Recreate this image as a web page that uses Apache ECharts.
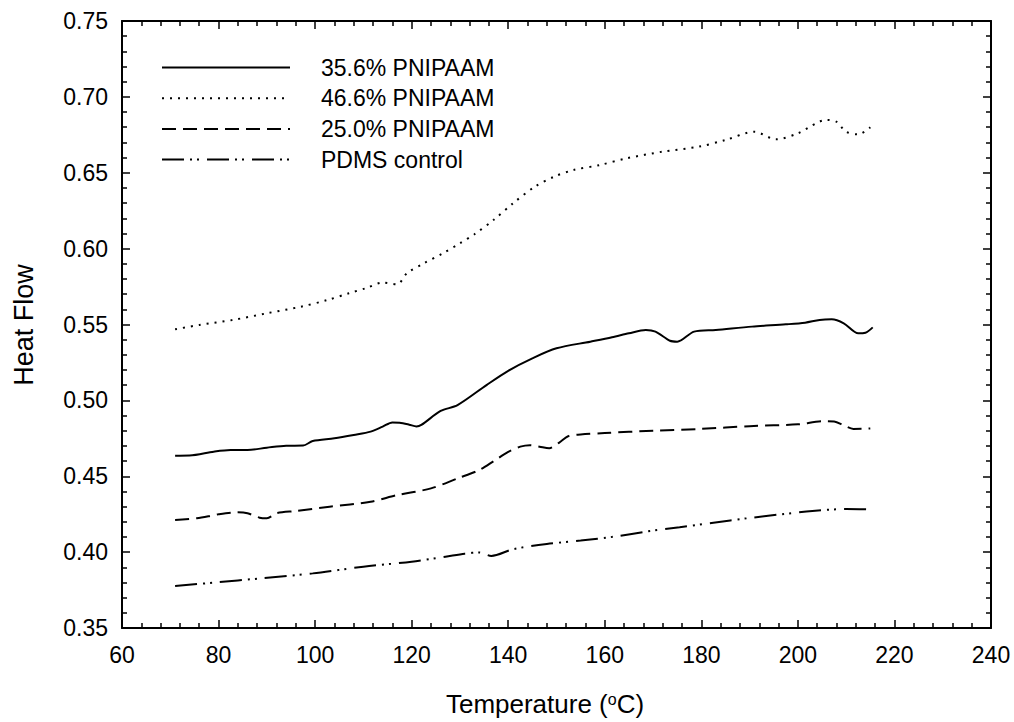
<!DOCTYPE html>
<html>
<head>
<meta charset="utf-8">
<script src="https://cdn.jsdelivr.net/npm/echarts@6/dist/echarts.min.js"></script>
<style>
html,body{margin:0;padding:0;background:#fff;}
#chart{width:1014px;height:722px;}
</style>
</head>
<body>
<div id="chart"></div>
<script>
// ---- Data ----
const seriesNames = ['35.6% PNIPAAM', '46.6% PNIPAAM', '25.0% PNIPAAM', 'PDMS control'];

const t356 = [71, 74, 79, 82.5, 86, 90, 94, 97.5, 99.5, 104, 108, 111.5, 114, 116, 117.5, 119.5, 121, 122, 126, 129.5, 135.5, 140, 145, 150, 157, 161.5, 165, 168.5, 170.5, 173.5, 175, 178.5, 183, 190.5, 197.5, 201.5, 204.5, 207, 209.5, 212.5, 214, 215.5];
const v356 = [0.4635, 0.4636, 0.4662, 0.4673, 0.4673, 0.4688, 0.4701, 0.4702, 0.4732, 0.4750, 0.4772, 0.4794, 0.4827, 0.4855, 0.4853, 0.4840, 0.4828, 0.4838, 0.4930, 0.4969, 0.5101, 0.5195, 0.5277, 0.5343, 0.5387, 0.5416, 0.5442, 0.5464, 0.5453, 0.5393, 0.5387, 0.5453, 0.5464, 0.5486, 0.5501, 0.5512, 0.5530, 0.5534, 0.5508, 0.5442, 0.5446, 0.5481];

const t466 = [71, 76, 83, 90, 97, 102.5, 107, 110.5, 114, 117, 119, 122.5, 126.5, 130, 133, 137, 141, 145.5, 149.5, 153.5, 159, 164.5, 172, 179.5, 185, 191, 195.5, 200, 206, 208, 210, 212.5, 215];
const v466 = [0.5468, 0.5497, 0.5530, 0.5574, 0.5617, 0.5661, 0.5706, 0.5739, 0.5776, 0.5765, 0.5837, 0.5903, 0.5969, 0.6035, 0.6095, 0.6190, 0.6299, 0.6408, 0.6474, 0.6518, 0.6551, 0.6595, 0.6639, 0.6672, 0.6716, 0.6770, 0.6720, 0.6760, 0.6848, 0.6836, 0.6770, 0.6753, 0.6800];

const t250 = [71, 75.5, 80, 84, 86, 88.5, 90, 92, 96, 103, 111.5, 117, 124, 129.5, 134, 137, 140, 142.5, 144.5, 146.5, 148.5, 150.5, 152.5, 155, 160, 170, 180, 190, 200, 205, 207.5, 209.5, 211.5, 215];
const v250 = [0.4212, 0.4223, 0.4249, 0.4262, 0.4256, 0.4227, 0.4223, 0.4256, 0.4271, 0.4299, 0.4332, 0.4376, 0.4420, 0.4486, 0.4541, 0.4600, 0.4660, 0.4695, 0.4705, 0.4695, 0.4685, 0.4720, 0.4765, 0.4775, 0.4785, 0.4800, 0.4812, 0.4830, 0.4842, 0.4862, 0.4860, 0.4835, 0.4812, 0.4815];

const tPdms = [71, 79, 89, 99.5, 110, 120, 127, 131, 134, 136.5, 141, 148, 155, 162, 168.5, 175.5, 182.5, 189.5, 196.5, 203, 210, 214.5];
const vPdms = [0.3777, 0.3799, 0.3828, 0.3860, 0.3904, 0.3937, 0.3970, 0.3990, 0.3998, 0.3975, 0.4019, 0.4054, 0.4076, 0.4102, 0.4135, 0.4164, 0.4194, 0.4223, 0.4249, 0.4271, 0.4284, 0.4282];

const xTicks = [60, 80, 100, 120, 140, 160, 180, 200, 220, 240];
const yTicks = ['0.35', '0.40', '0.45', '0.50', '0.55', '0.60', '0.65', '0.70', '0.75'];

// ---- Chart ----
const FONT = '"Liberation Sans", Arial, Helvetica, sans-serif';
const zip = (a, b) => a.map((x, i) => [x, b[i]]);

const chart = echarts.init(document.getElementById('chart'), null, {renderer: 'svg'});

function xAxisCfg(pos, showLabel) {
  return {
    type: 'value', position: pos,
    min: xTicks[0], max: xTicks[xTicks.length - 1], interval: 20,
    axisLine: {show: true, onZero: false, lineStyle: {color: '#000', width: 2}},
    axisTick: {show: true, inside: true, length: 8, lineStyle: {color: '#000', width: 1.5}},
    minorTick: {show: true, splitNumber: 5, length: 5, lineStyle: {color: '#000', width: 1.5}},
    axisLabel: {show: showLabel, margin: 15, color: '#000', fontSize: 23, fontFamily: FONT},
    splitLine: {show: false}, minorSplitLine: {show: false}
  };
}
function yAxisCfg(pos, showLabel) {
  return {
    type: 'value', position: pos,
    min: 0.35, max: 0.75, interval: 0.05,
    axisLine: {show: true, onZero: false, lineStyle: {color: '#000', width: 2}},
    axisTick: {show: true, inside: true, length: 8, lineStyle: {color: '#000', width: 1.5}},
    minorTick: {show: true, splitNumber: 5, length: 5, lineStyle: {color: '#000', width: 1.5}},
    axisLabel: {show: showLabel, margin: 14, color: '#000', fontSize: 23, fontFamily: FONT,
      formatter: v => { const s = v.toFixed(2); return yTicks.indexOf(s) >= 0 ? s : ''; }},
    splitLine: {show: false}, minorSplitLine: {show: false}
  };
}

const styles = [
  {type: 'solid'},
  {type: [2, 6]},
  {type: [14, 7]},
  {type: [22, 6, 2, 5, 2, 8]}
];
const datasets = [zip(t356, v356), zip(t466, v466), zip(t250, v250), zip(tPdms, vPdms)];

const option = {
  animation: false,
  backgroundColor: '#fff',
  grid: {left: 122, right: 23, top: 21, bottom: 94, containLabel: false},
  xAxis: [xAxisCfg('bottom', true), xAxisCfg('top', false)],
  yAxis: [yAxisCfg('left', true), yAxisCfg('right', false)],
  legend: {
    orient: 'vertical', left: 161, top: 56, padding: 0,
    itemWidth: 128, itemHeight: 14, itemGap: 7.7,
    data: seriesNames,
    itemStyle: {opacity: 0},
    formatter: name => '{n|' + name + '}',
    textStyle: {
      color: '#000',
      rich: {n: {fontSize: 23, fontFamily: FONT, color: '#000', lineHeight: 23, padding: [0, 0, 0, 26]}}
    }
  },
  series: seriesNames.map((name, i) => ({
    name: name, type: 'line', xAxisIndex: 0, yAxisIndex: 0,
    data: datasets[i], showSymbol: false, symbol: 'none', smooth: 0.3,
    lineStyle: {color: '#000', width: 2, type: styles[i].type, cap: 'butt'},
    itemStyle: {color: '#000'}
  })),
  graphic: [
    {
      type: 'text', x: 24, y: 325, rotation: Math.PI / 2,
      style: {text: 'Heat Flow', fontSize: 27, fontFamily: FONT, fill: '#000', align: 'center', verticalAlign: 'middle'}
    },
    {
      type: 'text', x: 545, y: 704,
      style: {
        text: 'Temperature ({s|o}C)', fontSize: 26, fontFamily: FONT, fill: '#000',
        align: 'center', verticalAlign: 'middle',
        rich: {s: {fontSize: 16, fontFamily: FONT, fill: '#000', verticalAlign: 'top'}}
      }
    }
  ]
};
chart.setOption(option);
</script>
</body>
</html>
